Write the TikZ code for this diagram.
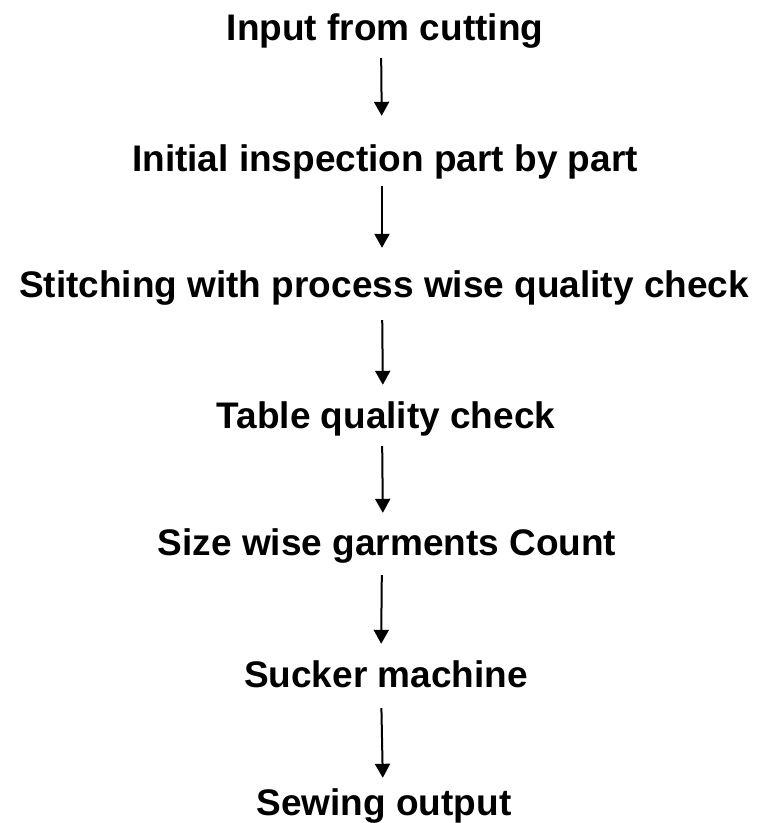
\documentclass[tikz,border=0pt]{standalone}
\usepackage{fontspec}
\setmainfont{Liberation Sans}
\usetikzlibrary{arrows.meta}
\tikzset{
  stage/.style={anchor=base, inner sep=0pt, text height=26.5pt, text depth=0pt,
    font=\fontsize{37}{40}\selectfont\bfseries},
  arr/.style={line width=2pt, -{Triangle[width=15pt,length=14pt]}}
}
\begin{document}
\begin{tikzpicture}[x=1pt,y=1pt]
\useasboundingbox (0,0) rectangle (759,-823);
\node[stage] (n1) at (385,-40) {Input from cutting};
\node[stage] (n2) at (385,-171) {Initial inspection part by part};
\node[stage] (n3) at (384,-297) {Stitching with process wise quality check};
\node[stage] (n4) at (386,-428) {Table quality check};
\node[stage] (n5) at (387,-555) {Size wise garments Count};
\node[stage] (n6) at (386,-687) {Sucker machine};
\node[stage] (n7) at (384,-815) {Sewing output};
\draw[arr, shorten <=18pt, shorten >=28.5pt] ([xshift=-4pt]n1.south) -- ([xshift=-3pt]n2.north);
\draw[arr, shorten <=15pt, shorten >=22.5pt] ([xshift=-3pt]n2.south) -- ([xshift=-2pt]n3.north);
\draw[arr, shorten <=23pt, shorten >=16.5pt] ([xshift=-2pt]n3.south) -- ([xshift=-3pt]n4.north);
\draw[arr, shorten <=18pt, shorten >=15.5pt] ([xshift=-4pt]n4.south) -- ([xshift=-4pt]n5.north);
\draw[arr, shorten <=20pt, shorten >=16.5pt] ([xshift=-5pt]n5.south) -- ([xshift=-5pt]n6.north);
\draw[arr, shorten <=21pt, shorten >=10.5pt] ([xshift=-5pt]n6.south) -- ([xshift=-1pt]n7.north);
\end{tikzpicture}
\end{document}
